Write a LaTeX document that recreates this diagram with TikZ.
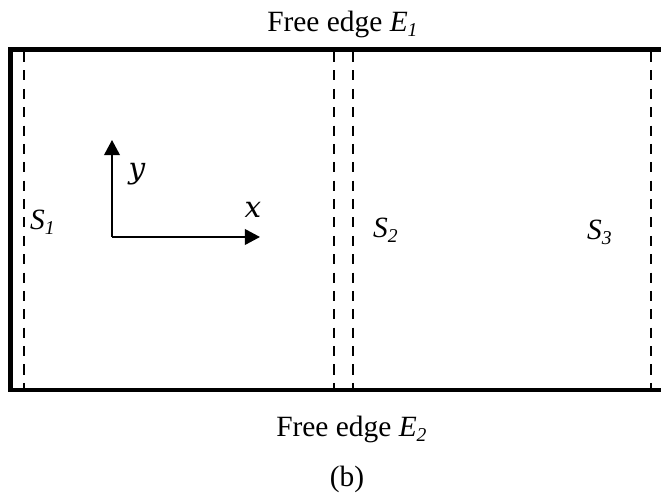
\documentclass[tikz,border=0pt]{standalone}
\usepackage{fontspec}
\setmainfont{Liberation Serif}
\newfontfamily\axisfont{DejaVu Serif}
\usetikzlibrary{arrows.meta, positioning}

\begin{document}
\begin{tikzpicture}[x=0.408pt, y=0.408pt, font=\fontsize{12}{14.4}\selectfont,
    plate/.style={line width=2pt, line join=miter},
    cut/.style={line width=0.8pt, dash pattern=on 4.1pt off 3.4pt},
    axis/.style={line width=0.8pt, -{Triangle[length=6.2pt, width=6.4pt]}},
    lbl/.style={anchor=base, inner sep=0pt},
    axislbl/.style={lbl, font=\fontsize{12}{14.4}\axisfont\itshape}]
  \useasboundingbox (0,0) rectangle (661,499);

  \draw[plate] (661,449.5) -- (10.5,449.5) -- (10.5,109) -- (661,109);

  \foreach \x in {24,334,353,651} {
    \draw[cut] (\x,447) -- (\x,111);
  }

  \coordinate (o) at (112,262);
  \coordinate (ytip) at (112,359);
  \coordinate (xtip) at (260,262);
  \draw[axis] (o) -- (ytip);
  \draw[axis] (o) -- (xtip);
  \node[axislbl] (ylbl) at (137,320) {y};
  \node[axislbl] (xlbl) at (253,281) {x};

  \node[lbl] (edgeA) at (343,467) {Free edge \textit{E\textsubscript{1}}};
  \node[lbl] (edgeB) at (352,62) {Free edge \textit{E\textsubscript{2}}};
  \node[lbl] (caption) at (347,12) {(b)};

  \node[lbl] (sA) at (43,269) {\textit{S\textsubscript{1}}};
  \node[lbl] (sB) at (386,261) {\textit{S\textsubscript{2}}};
  \node[lbl] (sC) at (600,259) {\textit{S\textsubscript{3}}};
\end{tikzpicture}
\end{document}
